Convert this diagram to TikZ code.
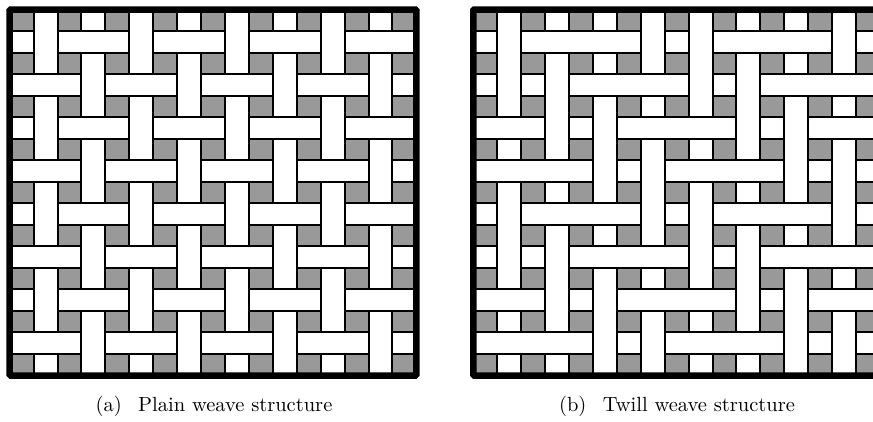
\documentclass[tikz,border=0pt]{standalone}
\usepackage{tikz}
\definecolor{weavegray}{HTML}{999999}

\begin{document}
\begin{tikzpicture}[x=1pt, y=-1pt,
    hole/.style={draw=black, fill=weavegray, line width=2pt},
    yarn/.style={draw=black, fill=white, line width=2pt},
    weaveframe/.style={draw=black, line width=6.5pt, rounded corners=1pt},
    subcap/.style={anchor=base, inner sep=0pt}
  ]
  \useasboundingbox (0,0) rectangle (873,421);
  \clip (0,0) rectangle (873,421);

  % plain weave
  \begin{scope}[xshift=9.7pt, yshift=-9.5pt, x=23.92pt, y=-21.53pt]
    \begin{scope}
      \clip (0,0) rectangle (17,17);
      \foreach \c in {0,2,...,16}
        \foreach \r in {0,2,...,16}
          \draw[hole] (\c,\r) rectangle ++(1,1);
      \foreach \i in {0,...,7} {
        \pgfmathtruncatemacro{\off}{2*mod(\i,2)}
        \foreach \k in {0,...,4}
          \draw[yarn] (2*\i+1,4*\k-\off) rectangle ++(1,3);
      }
      \foreach \j in {0,...,7} {
        \pgfmathtruncatemacro{\off}{2-2*mod(\j,2)}
        \foreach \k in {0,...,5}
          \draw[yarn] (4*\k-\off,2*\j+1) rectangle ++(3,1);
      }
    \end{scope}
    \draw[weaveframe] (0,0) rectangle (17,17);
  \end{scope}

  % twill weave
  \begin{scope}[xshift=473.3pt, yshift=-9.5pt, x=23.92pt, y=-21.53pt]
    \begin{scope}
      \clip (0,0) rectangle (17,17);
      \foreach \c in {0,2,...,16}
        \foreach \r in {0,2,...,16}
          \draw[hole] (\c,\r) rectangle ++(1,1);
      \foreach \i in {0,...,7}
        \foreach \m in {-2,...,1} {
          \draw[yarn] (2*\i+1,2*\i+8*\m) rectangle ++(1,5);
          \draw[yarn] (2*\i+1,2*\i+8*\m+6) rectangle ++(1,1);
        }
      \foreach \j in {0,...,7}
        \foreach \m in {-2,...,2} {
          \draw[yarn] (2*\j+2+8*\m,2*\j+1) rectangle ++(5,1);
          \draw[yarn] (2*\j+8*\m,2*\j+1) rectangle ++(1,1);
        }
    \end{scope}
    \draw[weaveframe] (0,0) rectangle (17,17);
  \end{scope}

  \node[subcap] (capa) at (214,411.5)
    {\scalebox{2.05}{(a)\hspace{0.8em}Plain weave structure}};
  \node[subcap] (capb) at (677,411.5)
    {\scalebox{2.05}{(b)\hspace{0.8em}Twill weave structure}};
\end{tikzpicture}
\end{document}
